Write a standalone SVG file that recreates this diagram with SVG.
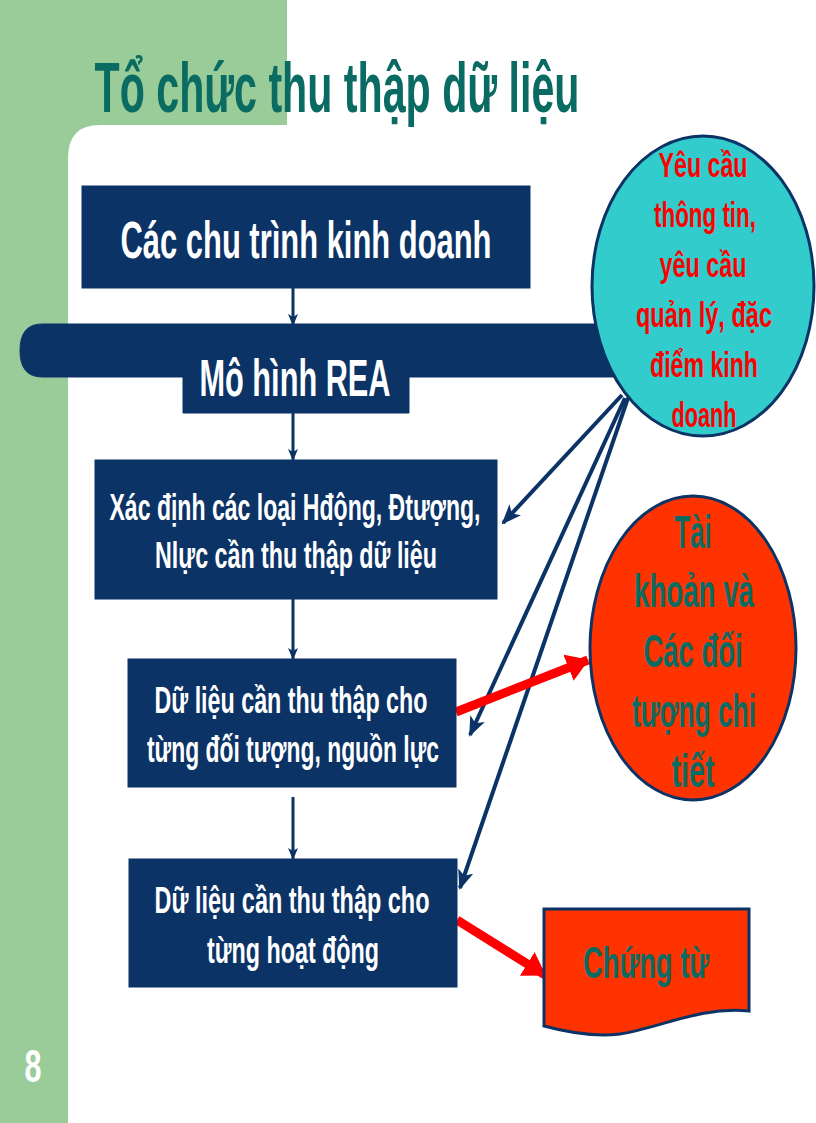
<svg xmlns="http://www.w3.org/2000/svg" width="816" height="1123" viewBox="0 0 816 1123">
<defs>
<style>
.box{fill:#0B3366;stroke:#0B3366;}
.wt{fill:#FFFFFF;font-family:"Liberation Sans",Arial,sans-serif;font-weight:bold;text-anchor:middle;}
.rt{fill:#FF0000;font-family:"Liberation Sans",Arial,sans-serif;font-weight:bold;text-anchor:middle;font-size:35px;}
.tt{fill:#0A6B63;font-family:"Liberation Sans",Arial,sans-serif;font-weight:bold;text-anchor:middle;}
.nv{stroke:#0B3366;stroke-width:4;fill:none;}
.nvs{stroke:#0B3366;stroke-width:3;fill:none;}
.red{stroke:#FF0000;stroke-width:9;fill:none;}
</style>
<marker id="ah" viewBox="0 0 20 16" refX="18" refY="8" markerWidth="20" markerHeight="16" markerUnits="userSpaceOnUse" orient="auto">
<path d="M0,0 L20,8 L0,16 L5,8 Z" fill="#0B3366"/>
</marker>
<marker id="ahs" viewBox="0 0 12 10" refX="11" refY="5" markerWidth="12" markerHeight="10" markerUnits="userSpaceOnUse" orient="auto">
<path d="M0,0 L12,5 L0,10 L3,5 Z" fill="#0B3366"/>
</marker>
<marker id="rh" viewBox="0 0 22 28" refX="21" refY="14" markerWidth="22" markerHeight="28" markerUnits="userSpaceOnUse" orient="auto">
<path d="M0,0 L22,14 L0,28 Z" fill="#FF0000"/>
</marker>
</defs>

<g id="background">
<rect x="0" y="0" width="816" height="1123" fill="#99CC99"/>
<path d="M68,1123 V158 Q68,125 100,125 H287 V0 H816 V1123 Z" fill="#FFFFFF"/>
</g>

<g id="title">
<text x="337" y="112" class="tt" font-size="70" textLength="485" lengthAdjust="spacingAndGlyphs">Tổ chức thu thập dữ liệu</text>
</g>

<g id="connectors">
<line x1="293" y1="288" x2="293" y2="325" class="nvs" marker-end="url(#ahs)"/>
<line x1="293" y1="413" x2="293" y2="460" class="nvs" marker-end="url(#ahs)"/>
<line x1="293" y1="599" x2="293" y2="659" class="nvs" marker-end="url(#ahs)"/>
<line x1="293" y1="797" x2="293" y2="859" class="nvs" marker-end="url(#ahs)"/>
<line x1="622" y1="395" x2="503" y2="523" class="nv" marker-end="url(#ah)"/>
<line x1="625" y1="398" x2="470" y2="735" class="nv" marker-end="url(#ah)"/>
<line x1="628" y1="398" x2="460" y2="888" class="nv" marker-end="url(#ah)"/>
<line x1="456" y1="712" x2="588" y2="660" class="red" marker-end="url(#rh)"/>
<line x1="457" y1="920" x2="545" y2="975" class="red" marker-end="url(#rh)"/>
</g>

<g id="node-chu-trinh">
<rect x="82" y="186" width="448" height="102" class="box"/>
<text x="306" y="258" class="wt" font-size="52" textLength="371" lengthAdjust="spacingAndGlyphs">Các chu trình kinh doanh</text>
</g>

<g id="node-rea">
<path d="M42,324 H650 V377 H409 V413 H183 V377 H42 Q20,377 20,350.5 Q20,324 42,324 Z" class="box"/>
<text x="295" y="396" class="wt" font-size="52" textLength="191" lengthAdjust="spacingAndGlyphs">Mô hình REA</text>
</g>

<g id="node-yeu-cau">
<ellipse cx="703" cy="286" rx="111" ry="150" fill="#33CCCC" stroke="#0B3366" stroke-width="3"/>
<text x="703" y="177" class="rt" textLength="89" lengthAdjust="spacingAndGlyphs">Yêu cầu</text>
<text x="705" y="227" class="rt" textLength="102" lengthAdjust="spacingAndGlyphs">thông tin,</text>
<text x="703" y="277" class="rt" textLength="87" lengthAdjust="spacingAndGlyphs">yêu cầu</text>
<text x="704" y="327" class="rt" textLength="136" lengthAdjust="spacingAndGlyphs">quản lý, đặc</text>
<text x="704" y="377" class="rt" textLength="108" lengthAdjust="spacingAndGlyphs">điểm kinh</text>
<text x="704" y="427" class="rt" textLength="65" lengthAdjust="spacingAndGlyphs">doanh</text>
</g>

<g id="node-xac-dinh">
<rect x="95" y="460" width="402" height="139" class="box"/>
<text x="295" y="520" class="wt" font-size="37" textLength="371" lengthAdjust="spacingAndGlyphs">Xác định các loại Hđộng, Đtượng,</text>
<text x="296" y="568" class="wt" font-size="37" textLength="282" lengthAdjust="spacingAndGlyphs">Nlực cần thu thập dữ liệu</text>
</g>

<g id="node-du-lieu-doi-tuong">
<rect x="128" y="659" width="328" height="128" class="box"/>
<text x="291" y="713" class="wt" font-size="36" textLength="273" lengthAdjust="spacingAndGlyphs">Dữ liệu cần thu thập cho</text>
<text x="293" y="762" class="wt" font-size="36" textLength="292" lengthAdjust="spacingAndGlyphs">từng đối tượng, nguồn lực</text>
</g>

<g id="node-tai-khoan">
<ellipse cx="693" cy="648" rx="103" ry="152" fill="#FF3300" stroke="#0B3366" stroke-width="3"/>
<text x="693" y="548" class="tt" font-size="46" textLength="37" lengthAdjust="spacingAndGlyphs">Tài</text>
<text x="694" y="607" class="tt" font-size="46" textLength="120" lengthAdjust="spacingAndGlyphs">khoản và</text>
<text x="693" y="667" class="tt" font-size="46" textLength="99" lengthAdjust="spacingAndGlyphs">Các đối</text>
<text x="694" y="727" class="tt" font-size="46" textLength="124" lengthAdjust="spacingAndGlyphs">tượng chi</text>
<text x="693" y="787" class="tt" font-size="46" textLength="43" lengthAdjust="spacingAndGlyphs">tiết</text>
</g>

<g id="node-du-lieu-hoat-dong">
<rect x="129" y="859" width="328" height="128" class="box"/>
<text x="292" y="913" class="wt" font-size="36" textLength="275" lengthAdjust="spacingAndGlyphs">Dữ liệu cần thu thập cho</text>
<text x="293" y="963" class="wt" font-size="36" textLength="172" lengthAdjust="spacingAndGlyphs">từng hoạt động</text>
</g>

<g id="node-chung-tu">
<path d="M544,909 H749 V1011 C700,1006 660,1028 620,1034 C595,1037 570,1033 544,1026 Z" fill="#FF3300" stroke="#0B3366" stroke-width="3"/>
<text x="646" y="978" class="tt" font-size="44" textLength="126" lengthAdjust="spacingAndGlyphs">Chứng từ</text>
</g>

<g id="page-number">
<text x="33" y="1082" class="wt" font-size="46" textLength="17" lengthAdjust="spacingAndGlyphs">8</text>
</g>
</svg>
